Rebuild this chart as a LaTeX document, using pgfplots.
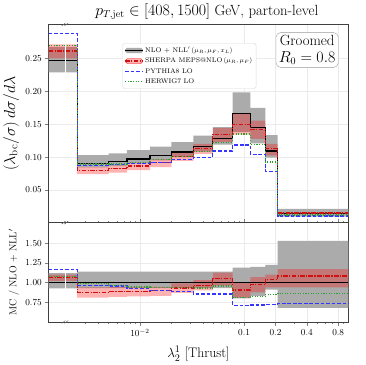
\documentclass[border=0pt]{standalone}
\usepackage{pgfplots}
\pgfplotsset{compat=1.18}
\usepackage{pgfplotstable}
\usepgfplotslibrary{fillbetween}

\definecolor{BandGray}{HTML}{ABABAB}
\definecolor{SherpaRed}{HTML}{D01010}
\definecolor{PythiaBlue}{HTML}{3535FF}
\definecolor{HerwigGreen}{HTML}{2CA02C}

% bin left edges, last row repeats the last bin at the right edge
\pgfplotstableread{
x       nlo    nlolo  nlohi  sh     shlo   shhi   py     hw
0.00133 0.2476 0.2290 0.2680 0.2615 0.2505 0.2715 0.2880 0.2700
0.0025  0.0905 0.0842 0.1030 0.0790 0.0740 0.0845 0.0875 0.0895
0.005   0.0928 0.0863 0.1056 0.0821 0.0762 0.0868 0.0888 0.0893
0.0075  0.0972 0.0904 0.1106 0.0862 0.0800 0.0915 0.0897 0.0918
0.0125  0.1020 0.0949 0.1160 0.0912 0.0848 0.0965 0.0915 0.0958
0.02    0.1078 0.1003 0.1226 0.1003 0.0940 0.1065 0.0960 0.1008
0.0325  0.1165 0.1083 0.1328 0.1125 0.1050 0.1200 0.0998 0.1085
0.05    0.1280 0.1190 0.1456 0.1345 0.1230 0.1440 0.1093 0.1226
0.0775  0.1665 0.1385 0.1985 0.1500 0.1340 0.1665 0.1182 0.1350
0.115   0.1455 0.1210 0.1750 0.1420 0.1275 0.1555 0.1043 0.1195
0.16    0.1090 0.0990 0.1335 0.1125 0.1025 0.1200 0.0785 0.0925
0.21    0.0137 0.0093 0.0211 0.0148 0.0129 0.0160 0.0101 0.0118
1.0     0.0137 0.0093 0.0211 0.0148 0.0129 0.0160 0.0101 0.0118
}\distr

\pgfplotstableread{
x       one glo   ghi    sh     shlo  shhi  py    hw
0.00133 1   0.925 1.120  1.0625 1.02  1.10  1.166 1.08
0.0025  1   0.93  1.1375 0.875  0.81  0.94  0.967 0.99
0.005   1   0.93  1.1375 0.885  0.82  0.945 0.957 0.965
0.0075  1   0.93  1.1375 0.888  0.825 0.945 0.923 0.945
0.0125  1   0.93  1.1375 0.895  0.83  0.945 0.897 0.94
0.02    1   0.93  1.1375 0.93   0.87  0.99  0.89  0.935
0.0325  1   0.93  1.1375 0.965  0.90  1.03  0.855 0.93
0.05    1   0.93  1.1375 1.05   0.96  1.125 0.855 0.958
0.0775  1   0.80  1.19   0.905  0.81  1.00  0.71  0.81
0.115   1   0.83  1.20   0.975  0.875 1.07  0.715 0.82
0.16    1   0.91  1.225  1.035  0.94  1.10  0.72  0.85
0.21    1   0.68  1.53   1.083  0.94  1.17  0.735 0.862
1.0     1   0.68  1.53   1.083  0.94  1.17  0.735 0.862
}\ratio

\tikzset{
  sherpaline/.style={color=SherpaRed, draw=SherpaRed, line width=1.4pt, dash pattern=on 5pt off 1.5pt on 1.2pt off 1.5pt},
  pythialine/.style={color=PythiaBlue, draw=PythiaBlue, line width=1.4pt, dash pattern=on 4pt off 2pt},
  herwigline/.style={color=HerwigGreen, draw=HerwigGreen, line width=1.4pt, dash pattern=on 1.2pt off 1.6pt},
  breakmarks/.style={draw=black!60, line width=0.5pt},
}

\begin{document}
\begin{tikzpicture}
\begin{axis}[
  name=top,
  scale only axis,
  width=325pt, height=215pt,
  xmode=log,
  xmin=0.00133, xmax=1,
  ymin=0, ymax=0.302,
  xtick={0.01,0.1,0.2,0.4,0.8},
  xticklabels={},
  major x tick style={draw=none},
  ytick={0.05,0.1,0.15,0.2,0.25},
  ytick pos=left,
  tick align=outside,
  major tick length=4pt,
  axis line style={black!75, line width=0.6pt},
  grid=major,
  major grid style={black!8, line width=0.4pt},
  scaled y ticks=false,
  yticklabel style={/pgf/number format/.cd, fixed, fixed zerofill, precision=2},
  tick label style={font=\fontsize{10}{12}\selectfont},
  clip=false,
  ylabel={$(\lambda_{\mathrm{bc}}/\sigma)\,d\sigma/d\lambda$},
  ylabel style={font=\fontsize{18}{20}\selectfont},
  title={$p_{T,\mathrm{jet}} \in [408, 1500]$ GeV, parton-level},
  title style={font=\fontsize{16}{19}\selectfont, xshift=9pt, yshift=-4pt},
  legend style={at={(0.246,0.906)}, anchor=north west, draw=black!15, rounded corners=2pt,
    fill=white, font=\fontsize{7.3}{8.8}\selectfont, row sep=0.5pt, inner sep=2.2pt},
  legend cell align=left,
]
\addplot[name path=nlolo, const plot, draw=none, forget plot] table[x=x, y=nlolo] {\distr};
\addplot[name path=nlohi, const plot, draw=none, forget plot] table[x=x, y=nlohi] {\distr};
\addplot[BandGray, forget plot] fill between[of=nlolo and nlohi];
\addplot[name path=shlo, const plot, draw=none, forget plot] table[x=x, y=shlo] {\distr};
\addplot[name path=shhi, const plot, draw=none, forget plot] table[x=x, y=shhi] {\distr};
\addplot[red, fill opacity=0.3, forget plot] fill between[of=shlo and shhi];

\addplot[const plot, draw=black, line width=1.4pt, forget plot] table[x=x, y=nlo] {\distr};
\addplot[const plot, sherpaline, forget plot] table[x=x, y=sh] {\distr};
\addplot[const plot, pythialine, forget plot] table[x=x, y=py] {\distr};
\addplot[const plot, herwigline, forget plot] table[x=x, y=hw] {\distr};

% gap of the broken axis
\draw[white, line width=1.6pt] (axis cs:0.00193,0.222) -- (axis cs:0.00193,0.2745);
\draw[breakmarks] ([xshift=-4pt,yshift=-1.5pt]rel axis cs:0.0557,0) -- ++(4pt,3pt);
\draw[breakmarks] ([xshift=-1pt,yshift=-1.5pt]rel axis cs:0.0557,0) -- ++(4pt,3pt);
\draw[breakmarks] ([xshift=-4pt,yshift=-1.5pt]rel axis cs:0.0557,1) -- ++(4pt,3pt);
\draw[breakmarks] ([xshift=-1pt,yshift=-1.5pt]rel axis cs:0.0557,1) -- ++(4pt,3pt);

\node[draw=black!40, rounded corners=5pt, fill=white, align=center, anchor=north east,
  inner sep=3pt, font=\fontsize{16}{18}\selectfont] at (rel axis cs:0.967,0.96) {Groomed\\$R_0 = 0.8$};

\addlegendimage{legend image code/.code={
  \fill[BandGray] (0pt,-2.6pt) rectangle (19pt,2.6pt);
  \draw[black, line width=1.4pt] (0pt,0pt) -- (19pt,0pt);}}
\addlegendentry{NLO + NLL$'$\,$(\mu_R,\mu_F,x_L)$}
\addlegendimage{legend image code/.code={
  \fill[red, fill opacity=0.3] (0pt,-2.6pt) rectangle (19pt,2.6pt);
  \draw[sherpaline] (0pt,0pt) -- (19pt,0pt);}}
\addlegendentry{SHERPA MEPS@NLO\,$(\mu_R,\mu_F)$}
\addlegendimage{legend image code/.code={\draw[pythialine] (0pt,0pt) -- (19pt,0pt);}}
\addlegendentry{PYTHIA8 LO}
\addlegendimage{legend image code/.code={\draw[herwigline] (0pt,0pt) -- (19pt,0pt);}}
\addlegendentry{HERWIG7 LO}
\end{axis}

\begin{axis}[
  name=bot,
  at={(top.south west)}, anchor=north west,
  scale only axis,
  width=325pt, height=107.7pt,
  xmode=log,
  xmin=0.00133, xmax=1,
  ymin=0.5, ymax=1.76,
  xtick={0.01,0.1,0.2,0.4,0.8},
  xticklabels={$10^{-2}$,0.1,0.2,0.4,0.8},
  minor xtick={0.003,0.004,0.005,0.006,0.007,0.008,0.009,0.02,0.03,0.04,0.05,0.06,0.07,0.08,0.09,0.3,0.5,0.6,0.7,0.9},
  xtick pos=both,
  ytick={0.75,1,1.25,1.5},
  ytick pos=left,
  tick align=outside,
  major tick length=4pt,
  minor tick length=2pt,
  axis line style={black!75, line width=0.6pt},
  grid=major,
  major grid style={black!8, line width=0.4pt},
  yticklabel style={/pgf/number format/.cd, fixed, fixed zerofill, precision=2},
  tick label style={font=\fontsize{10}{12}\selectfont},
  clip=false,
  xlabel={$\lambda_2^1$ [Thrust]},
  xlabel style={font=\fontsize{15}{18}\selectfont, yshift=-4pt},
  ylabel={MC / NLO + NLL$'$},
  ylabel style={font=\fontsize{11}{13}\selectfont},
]
\addplot[name path=glo, const plot, draw=none] table[x=x, y=glo] {\ratio};
\addplot[name path=ghi, const plot, draw=none] table[x=x, y=ghi] {\ratio};
\addplot[BandGray] fill between[of=glo and ghi];
\addplot[name path=rlo, const plot, draw=none] table[x=x, y=shlo] {\ratio};
\addplot[name path=rhi, const plot, draw=none] table[x=x, y=shhi] {\ratio};
\addplot[red, fill opacity=0.3] fill between[of=rlo and rhi];

\addplot[const plot, draw=black, line width=1.2pt] table[x=x, y=one] {\ratio};
\addplot[const plot, sherpaline] table[x=x, y=sh] {\ratio};
\addplot[const plot, pythialine] table[x=x, y=py] {\ratio};
\addplot[const plot, herwigline] table[x=x, y=hw] {\ratio};

\draw[white, line width=1.6pt] (axis cs:0.00193,0.90) -- (axis cs:0.00193,1.145);
\draw[breakmarks] ([xshift=-4pt,yshift=-1.5pt]rel axis cs:0.0557,0) -- ++(4pt,3pt);
\draw[breakmarks] ([xshift=-1pt,yshift=-1.5pt]rel axis cs:0.0557,0) -- ++(4pt,3pt);
\draw[breakmarks] ([xshift=-4pt,yshift=-1.5pt]rel axis cs:0.0557,1) -- ++(4pt,3pt);
\draw[breakmarks] ([xshift=-1pt,yshift=-1.5pt]rel axis cs:0.0557,1) -- ++(4pt,3pt);
\end{axis}

\path (top.north west) ++(-45.8pt,23.5pt) (bot.south east) ++(19.2pt,-43.7pt);
\end{tikzpicture}
\end{document}
